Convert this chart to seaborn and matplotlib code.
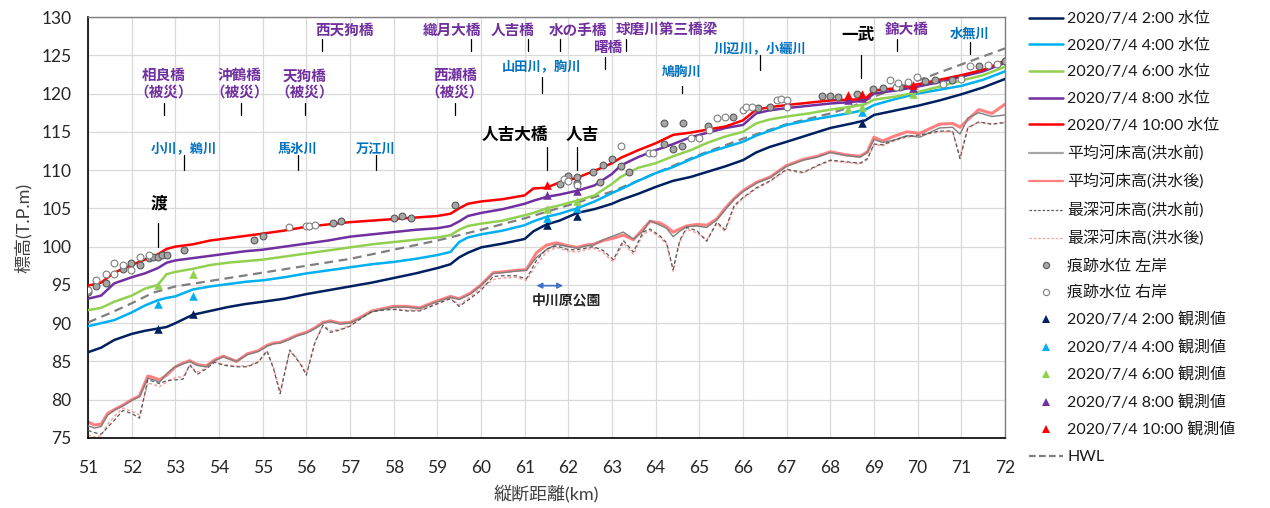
import numpy as np
import matplotlib
matplotlib.use("Agg")
import matplotlib.pyplot as plt
from matplotlib.lines import Line2D
import seaborn as sns

sns.set_style("white")
plt.rcParams['font.family'] = ['Lato', 'Noto Sans CJK JP', 'DejaVu Sans']

# ---------------- water surface profiles (km, T.P.m) ----------------
wl_km = [51.0, 51.3, 51.6, 52.0, 52.3, 52.6, 52.8, 53.0, 53.4, 53.8,
         54.2, 54.6, 55.0, 55.5, 56.0, 56.5, 57.0, 57.5, 58.0, 58.5,
         59.0, 59.3, 59.5, 59.7, 60.0, 60.5, 61.0, 61.2, 61.5, 61.8,
         62.2, 62.6, 63.0, 63.2, 63.6, 64.0, 64.4, 64.8, 65.2, 65.6,
         66.0, 66.3, 66.6, 67.0, 67.5, 68.0, 68.5, 68.8, 69.0, 69.5,
         70.0, 70.5, 71.0, 71.5, 72.0]
wl_0200 = [86.2, 86.8, 87.8, 88.6, 89.0, 89.3, 89.5, 90.0, 91.1, 91.6,
           92.1, 92.5, 92.8, 93.2, 93.8, 94.3, 94.8, 95.3, 95.9, 96.5,
           97.2, 97.7, 98.6, 99.2, 99.9, 100.4, 101.0, 102.0, 102.9, 103.4,
           104.4, 104.9, 105.6, 106.1, 106.9, 107.8, 108.6, 109.1, 109.8, 110.5,
           111.3, 112.3, 113.0, 113.7, 114.6, 115.5, 116.1, 116.5, 117.2, 117.8,
           118.4, 119.1, 119.9, 120.8, 121.9]
wl_0400 = [89.6, 90.0, 90.4, 91.4, 92.3, 93.0, 93.3, 93.5, 94.4, 94.8,
           95.1, 95.4, 95.6, 96.0, 96.5, 96.9, 97.3, 97.7, 98.0, 98.4,
           98.9, 99.3, 100.6, 101.2, 101.6, 102.1, 102.8, 103.3, 103.9, 104.3,
           105.0, 105.9, 107.0, 107.5, 108.6, 109.6, 110.4, 111.4, 112.3, 113.0,
           113.7, 114.5, 115.1, 115.9, 116.5, 117.0, 117.5, 117.9, 118.5, 119.3,
           120.0, 120.5, 121.0, 121.8, 122.9]
wl_0600 = [91.7, 92.0, 92.8, 93.6, 94.5, 95.0, 96.4, 96.7, 97.1, 97.6,
           97.9, 98.1, 98.3, 98.7, 99.1, 99.5, 99.9, 100.3, 100.6, 100.9,
           101.2, 101.5, 102.2, 102.7, 103.0, 103.4, 104.1, 104.4, 105.0, 105.4,
           106.0, 106.7, 108.2, 109.1, 110.3, 110.9, 111.8, 112.6, 113.6, 114.4,
           115.0, 116.1, 116.6, 117.0, 117.4, 117.9, 118.3, 118.6, 119.2, 119.6,
           120.2, 120.9, 121.7, 122.4, 123.5]
wl_0800 = [93.2, 93.6, 95.2, 96.0, 96.5, 97.2, 97.9, 98.2, 98.5, 98.8,
           99.1, 99.4, 99.6, 100.0, 100.4, 100.8, 101.3, 101.6, 101.9, 102.2,
           102.4, 102.7, 103.3, 104.0, 104.4, 104.9, 105.6, 106.0, 106.5, 106.8,
           107.3, 108.0, 109.5, 110.6, 111.7, 112.6, 113.4, 114.3, 114.9, 115.5,
           115.9, 117.4, 117.8, 118.1, 118.4, 118.7, 118.9, 119.1, 120.0, 120.4,
           120.9, 121.5, 122.2, 122.9, 124.0]
wl_1000 = [94.9, 95.3, 96.6, 97.6, 98.3, 99.0, 99.7, 100.0, 100.3, 100.8,
           101.1, 101.4, 101.7, 102.1, 102.6, 102.9, 103.2, 103.4, 103.6, 103.8,
           104.0, 104.3, 105.0, 105.6, 105.9, 106.2, 106.7, 107.6, 107.7, 108.4,
           109.0, 109.9, 110.9, 111.6, 112.6, 113.5, 114.6, 114.9, 115.3, 115.7,
           116.5, 117.9, 118.2, 118.5, 118.8, 119.1, 119.2, 119.3, 120.4, 120.7,
           121.2, 121.8, 122.4, 123.1, 124.3]

# ---------------- planned high water level ----------------
hwl_km = [51.0, 51.5, 52.0, 52.5, 53.0, 54.0, 55.0, 56.0, 57.0, 58.0,
          59.0, 60.0, 61.0, 62.0, 63.0, 64.0, 65.0, 66.0, 67.0, 68.0,
          68.5, 69.0, 70.0, 71.0, 72.0]
hwl = [90.1, 91.3, 92.6, 94.0, 94.8, 95.7, 96.6, 97.5, 98.4, 99.6,
       100.8, 102.2, 103.7, 105.4, 107.2, 109.6, 112.0, 114.1, 116.0, 117.4,
       118.3, 119.6, 121.7, 123.8, 125.9]

# ---------------- riverbed profiles ----------------
bed_km = [51.0, 51.15, 51.3, 51.45, 51.6, 51.8, 52.0, 52.18, 52.37, 52.5,
          52.64, 52.8, 53.0, 53.18, 53.33, 53.5, 53.7, 53.9, 54.1, 54.4,
          54.65, 54.9, 55.1, 55.25, 55.4, 55.62, 55.77, 55.88, 56.0, 56.2,
          56.38, 56.55, 56.77, 57.0, 57.25, 57.5, 57.75, 58.0, 58.3, 58.6,
          58.9, 59.3, 59.5, 59.75, 60.0, 60.28, 60.5, 60.8, 61.04, 61.27,
          61.5, 61.73, 62.0, 62.2, 62.4, 62.57, 62.8, 63.03, 63.26, 63.49,
          63.71, 63.87, 64.1, 64.25, 64.4, 64.55, 64.71, 64.94, 65.17, 65.4,
          65.59, 65.8, 66.0, 66.31, 66.62, 67.0, 67.38, 67.7, 68.0, 68.35,
          68.68, 68.85, 69.0, 69.2, 69.45, 69.75, 70.05, 70.5, 70.8, 70.97,
          71.15, 71.4, 71.7, 72.0]
bed_mean_before = [76.6, 76.3, 76.5, 78.0, 78.6, 79.2, 79.9, 80.4, 82.8, 82.6,
                   82.3, 83.4, 84.3, 84.7, 85.0, 84.5, 84.3, 85.1, 85.6, 85.0,
                   85.9, 86.3, 87.0, 87.3, 87.4, 87.9, 88.3, 88.5, 88.7, 89.3,
                   90.0, 90.2, 89.9, 90.0, 90.7, 91.5, 91.8, 92.1, 92.1, 91.9,
                   92.6, 93.4, 93.1, 93.8, 94.9, 96.5, 96.6, 96.8, 96.9, 98.6,
                   99.6, 100.3, 100.0, 99.8, 100.1, 100.2, 100.9, 101.4, 101.9, 101.0,
                   102.0, 103.4, 102.8, 102.4, 101.3, 102.0, 102.6, 102.7, 102.5, 103.5,
                   104.8, 106.2, 107.2, 108.3, 109.0, 110.5, 111.3, 111.7, 112.3, 111.9,
                   111.7, 112.3, 114.0, 113.6, 113.9, 114.5, 114.3, 115.5, 115.6, 114.7,
                   116.8, 117.5, 117.0, 117.2]
bed_mean_after = [77.1, 76.7, 76.8, 78.2, 78.7, 79.3, 80.0, 80.5, 83.1, 82.9,
                  82.6, 83.2, 84.3, 84.8, 85.1, 84.6, 84.4, 85.2, 85.7, 85.0,
                  86.0, 86.4, 87.1, 87.4, 87.5, 88.0, 88.4, 88.6, 88.8, 89.4,
                  90.1, 90.3, 90.0, 90.1, 90.8, 91.6, 91.9, 92.2, 92.2, 92.0,
                  92.7, 93.5, 93.2, 93.9, 95.0, 96.6, 96.7, 96.9, 97.0, 99.2,
                  100.2, 100.5, 100.1, 99.9, 100.2, 100.3, 100.8, 101.1, 101.5, 100.9,
                  102.3, 103.3, 103.1, 102.6, 101.9, 102.3, 102.7, 102.9, 102.8, 103.6,
                  105.0, 106.3, 107.3, 108.4, 109.1, 110.6, 111.4, 111.8, 112.4, 112.0,
                  111.8, 112.4, 114.3, 113.8, 114.4, 115.0, 114.8, 116.0, 116.1, 115.6,
                  116.6, 117.9, 117.4, 118.6]
bed_deep_before = [76.0, 75.7, 75.5, 76.4, 77.3, 78.6, 78.2, 77.6, 82.6, 82.4,
                   82.1, 82.5, 82.6, 82.7, 84.6, 83.3, 84.0, 84.9, 84.5, 84.3,
                   84.3, 84.9, 86.4, 84.0, 80.8, 86.5, 85.4, 84.5, 83.2, 87.5,
                   89.7, 88.8, 89.1, 89.6, 90.6, 91.5, 91.7, 91.8, 91.6, 91.6,
                   92.3, 93.2, 92.2, 93.2, 94.3, 96.1, 96.2, 96.2, 95.8, 98.2,
                   99.7, 100.1, 99.6, 99.6, 99.8, 100.0, 99.5, 98.3, 100.8, 99.3,
                   101.9, 102.3, 101.4, 100.5, 97.0, 100.8, 102.5, 102.1, 100.7, 103.2,
                   102.2, 105.4, 106.4, 107.7, 108.6, 110.1, 109.7, 110.6, 111.3, 111.1,
                   110.9, 111.5, 113.4, 113.3, 113.9, 114.4, 114.6, 115.1, 115.1, 111.5,
                   115.5, 116.3, 116.0, 116.2]
bed_deep_after = [75.4, 75.1, 75.3, 76.8, 77.8, 78.9, 78.5, 78.0, 82.2, 82.0,
                  81.7, 82.3, 82.9, 83.0, 84.4, 83.6, 84.1, 85.0, 84.6, 84.4,
                  84.4, 85.0, 86.3, 84.2, 81.0, 86.3, 85.5, 84.6, 83.5, 87.6,
                  89.8, 89.0, 89.2, 89.7, 90.7, 91.6, 91.8, 91.9, 91.7, 91.7,
                  92.4, 93.3, 92.4, 93.4, 94.6, 95.7, 95.9, 96.0, 95.6, 97.6,
                  99.3, 99.9, 99.4, 99.3, 99.6, 99.8, 99.2, 98.0, 100.5, 99.0,
                  101.6, 102.1, 101.2, 100.3, 96.8, 100.6, 102.3, 101.8, 100.9, 103.0,
                  102.0, 105.2, 106.3, 107.6, 108.5, 110.0, 109.6, 110.5, 111.2, 111.0,
                  110.8, 111.4, 113.3, 113.2, 113.8, 114.3, 114.5, 115.0, 115.0, 111.8,
                  115.6, 116.2, 116.0, 116.3]

# ---------------- flood trace marks ----------------
trace_left_km = [51.0, 51.19, 51.41, 51.8, 51.99, 52.2, 52.39, 52.49, 52.6, 52.7,
                 52.8, 53.19, 54.8, 55.0, 56.6, 56.8, 58.0, 58.2, 58.4, 59.4,
                 61.8, 62.0, 62.19, 62.19, 62.57, 62.72, 62.8, 62.99, 63.2, 63.39,
                 64.19, 64.62, 64.2, 64.4, 64.6, 65.2, 65.78, 66.35, 66.62, 67.8,
                 67.99, 68.18, 68.6, 68.98, 69.21, 69.6, 70.17, 70.4, 70.78, 71.41,
                 72.0]
trace_left = [94.1, 94.9, 95.2, 97.1, 97.8, 97.6, 98.5, 98.7, 98.7, 98.9,
              98.9, 99.5, 100.9, 101.4, 103.1, 103.4, 103.8, 104.0, 103.8, 105.4,
              108.2, 109.2, 108.3, 109.1, 109.7, 108.5, 110.6, 111.4, 110.5, 109.8,
              116.1, 116.1, 113.4, 112.8, 113.2, 115.7, 117.0, 118.1, 118.3, 119.7,
              119.7, 119.5, 120.0, 120.6, 120.7, 120.8, 121.7, 121.8, 121.8, 123.6,
              124.2]
trace_right_km = [51.0, 51.19, 51.41, 51.6, 51.6, 51.8, 51.99, 52.2, 52.39, 55.6,
                  55.99, 56.05, 56.2, 61.9, 62.0, 62.19, 63.2, 63.85, 63.95, 64.82,
                  65.0, 65.22, 65.4, 65.59, 66.0, 66.08, 66.2, 66.77, 66.88, 67.0,
                  67.0, 69.37, 69.5, 69.56, 69.79, 69.98, 70.59, 70.99, 71.2, 71.62,
                  71.81]
trace_right = [94.4, 95.7, 96.4, 97.9, 96.4, 97.6, 97.0, 98.6, 98.9, 102.6,
               102.7, 102.7, 102.8, 108.8, 108.6, 108.0, 113.2, 112.2, 112.2, 114.2,
               114.2, 115.3, 116.8, 116.9, 117.9, 118.2, 118.2, 119.2, 119.3, 119.2,
               118.2, 121.8, 120.9, 121.4, 121.5, 122.2, 121.2, 121.9, 123.6, 123.7,
               123.9]

# ---------------- gauged water levels ----------------
gauge_km = [52.6, 53.4, 61.5, 62.19, 68.41, 68.72, 69.9]
obs_0200 = [89.2, 91.2, 102.8, 104.0, np.nan, 116.1, np.nan]
obs_0400 = [92.5, 93.5, 103.8, 105.0, np.nan, 117.6, np.nan]
obs_0600 = [95.0, 96.4, 104.9, 106.0, 118.0, 118.3, 119.9]
obs_0800 = [np.nan, np.nan, 106.7, 107.3, 119.1, 119.4, 120.7]
obs_1000 = [np.nan, np.nan, 108.1, np.nan, 119.8, 119.9, 121.1]

times = ["2:00", "4:00", "6:00", "8:00", "10:00"]
time_colors = ["#002060", "#00b0f0", "#92d050", "#7030a0", "#ff0000"]
wl_series = [wl_0200, wl_0400, wl_0600, wl_0800, wl_1000]
obs_series = [obs_0200, obs_0400, obs_0600, obs_0800, obs_1000]

C_BED_BEFORE = "#7f7f7f"
C_BED_AFTER = "#ff8080"
C_DEEP_BEFORE = "#595959"
C_DEEP_AFTER = "#ff9f9f"
C_HWL = "#7f7f7f"

fig = plt.figure(figsize=(12.7, 5.08), dpi=100)
ax = fig.add_axes([88 / 1270, 1 - 438 / 508, (1005 - 88) / 1270, (438 - 17) / 508])

# riverbed
sns.lineplot(x=bed_km, y=bed_mean_after, color=C_BED_AFTER, lw=2.2, ax=ax, zorder=2)
sns.lineplot(x=bed_km, y=bed_deep_after, color=C_DEEP_AFTER, lw=1.1,
             linestyle=(0, (2, 1.5)), ax=ax, zorder=2)
sns.lineplot(x=bed_km, y=bed_mean_before, color=C_BED_BEFORE, lw=1.0, ax=ax, zorder=3)
sns.lineplot(x=bed_km, y=bed_deep_before, color=C_DEEP_BEFORE, lw=0.9,
             linestyle=(0, (3, 2)), ax=ax, zorder=3)

# HWL
sns.lineplot(x=hwl_km, y=hwl, color=C_HWL, lw=1.6, linestyle=(0, (4, 2.5)), ax=ax, zorder=3)

# water levels
for vals, col in zip(wl_series, time_colors):
    sns.lineplot(x=wl_km, y=vals, color=col, lw=1.8, ax=ax, zorder=4)

# trace marks
sns.scatterplot(x=trace_left_km, y=trace_left, s=24, color="#a6a6a6",
                edgecolor="#595959", linewidth=0.8, ax=ax, zorder=5)
sns.scatterplot(x=trace_right_km, y=trace_right, s=24, color="white",
                edgecolor="#7f7f7f", linewidth=0.8, ax=ax, zorder=5)

# gauged values
for vals, col in zip(obs_series, time_colors):
    sns.scatterplot(x=gauge_km, y=vals, marker="^", s=38, color=col,
                    edgecolor=col, linewidth=0, ax=ax, zorder=6)

# axes styling
ax.set_xlim(51, 72)
ax.set_ylim(75, 130)
ax.set_xticks(range(51, 73))
ax.set_yticks(range(75, 131, 5))
ax.grid(True, color="#d9d9d9", lw=0.9)
ax.set_axisbelow(True)
ax.tick_params(axis="both", length=0, labelsize=12.5, labelcolor="#262626")
ax.tick_params(axis="x", pad=16)
ax.tick_params(axis="y", pad=12)
for side in ("top", "right"):
    ax.spines[side].set_color("#7f7f7f")
    ax.spines[side].set_linewidth(1.0)
for side in ("left", "bottom"):
    ax.spines[side].set_color("black")
    ax.spines[side].set_linewidth(1.2)
ax.set_xlabel("縦断距離(km)", fontsize=13, labelpad=6, color="#404040")
ax.set_ylabel("標高(T.P.m)", fontsize=13, labelpad=7, color="#404040")

# ---------------- place-name annotations ----------------
PURPLE = "#7030a0"
BLUE = "#0070c0"
BLACK = "black"
cjk = ["Noto Sans CJK JP", "DejaVu Sans"]

# (text, text_x, text_y, line_x, line_y0, line_y1, color, size)
labels = [
    ("西天狗橋", 56.87, 128.3, 56.35, 127.1, 125.6, PURPLE, 10.5),
    ("織月大橋", 59.34, 128.3, 59.77, 127.1, 125.6, PURPLE, 10.5),
    ("人吉橋", 60.73, 128.3, 61.07, 127.1, 125.6, PURPLE, 10.5),
    ("水の手橋", 62.22, 128.3, 61.81, 127.1, 125.6, PURPLE, 10.5),
    ("球磨川第三橋梁", 64.25, 128.4, 63.32, 127.1, 125.6, PURPLE, 10.5),
    ("曙橋", 62.91, 126.1, 62.85, 124.8, 123.2, PURPLE, 10.5),
    ("錦大橋", 69.76, 128.4, 69.53, 127.1, 125.6, PURPLE, 10.5),
    ("相良橋\n（被災）", 52.73, 121.3, 52.75, 118.8, 117.2, PURPLE, 10.5),
    ("沖鶴橋\n（被災）", 54.48, 121.3, 54.51, 118.8, 117.2, PURPLE, 10.5),
    ("天狗橋\n（被災）", 55.96, 121.3, 55.98, 118.8, 117.2, PURPLE, 10.5),
    ("西瀬橋\n（被災）", 59.40, 121.3, 59.40, 118.8, 117.2, PURPLE, 10.5),
    ("小川，鵜川", 53.19, 112.8, 53.20, 112.0, 110.0, BLUE, 9.5),
    ("馬氷川", 55.79, 112.8, 55.80, 112.0, 110.0, BLUE, 9.5),
    ("万江川", 57.59, 112.8, 57.59, 112.0, 110.0, BLUE, 9.5),
    ("山田川，胸川", 61.39, 123.4, 61.40, 122.2, 120.1, BLUE, 9.5),
    ("鳩胸川", 64.59, 122.8, 64.61, 121.0, 120.1, BLUE, 9.5),
    ("川辺川，小纚川", 66.39, 125.8, 66.40, 125.0, 123.1, BLUE, 9.5),
    ("水無川", 71.20, 127.9, 71.20, 126.7, 125.2, BLUE, 9.5),
    ("渡", 52.62, 105.7, 52.60, 103.1, 100.0, BLACK, 12),
    ("人吉大橋", 60.78, 114.6, 61.50, 113.0, 110.0, BLACK, 12),
    ("人吉", 62.33, 114.6, 62.19, 113.0, 110.0, BLACK, 12),
    ("一武", 68.63, 127.6, 68.70, 125.0, 122.0, BLACK, 12),
]
for text, tx, ty, lx, ly0, ly1, col, size in labels:
    ax.text(tx, ty, text, ha="center", va="center", color=col, fontsize=size,
            fontweight="bold", family=cjk, linespacing=1.05, zorder=7)
    ax.plot([lx, lx], [ly0, ly1], color="black", lw=0.9, zorder=7)

ax.annotate("", xy=(61.88, 94.9), xytext=(61.27, 94.9),
            arrowprops=dict(arrowstyle="<|-|>", color="#4472c4", lw=1.2,
                            mutation_scale=8, shrinkA=0, shrinkB=0), zorder=7)
ax.text(61.96, 93.0, "中川原公園", ha="center", va="center", color="#262626",
        fontsize=10, fontweight="bold", family=cjk, zorder=7)

# ---------------- legend ----------------
handles = []
leg_labels = []
for t, col in zip(times, time_colors):
    handles.append(Line2D([], [], color=col, lw=1.8))
    leg_labels.append(f"2020/7/4 {t} 水位")
handles += [
    Line2D([], [], color="#a6a6a6", lw=1.6),
    Line2D([], [], color=C_BED_AFTER, lw=1.6),
    Line2D([], [], color=C_DEEP_BEFORE, lw=0.9, linestyle=(0, (2, 1.5))),
    Line2D([], [], color=C_DEEP_AFTER, lw=0.9, linestyle=(0, (2, 1.5))),
    Line2D([], [], color="none", marker="o", markersize=4.5,
           markerfacecolor="#a6a6a6", markeredgecolor="#595959", markeredgewidth=0.8),
    Line2D([], [], color="none", marker="o", markersize=4.5,
           markerfacecolor="white", markeredgecolor="#7f7f7f", markeredgewidth=0.8),
]
leg_labels += ["平均河床高(洪水前)", "平均河床高(洪水後)", "最深河床高(洪水前)",
               "最深河床高(洪水後)", "痕跡水位 左岸", "痕跡水位 右岸"]
for t, col in zip(times, time_colors):
    handles.append(Line2D([], [], color="none", marker="^", markersize=5.5,
                          markerfacecolor=col, markeredgecolor=col, markeredgewidth=0))
    leg_labels.append(f"2020/7/4 {t} 観測値")
handles.append(Line2D([], [], color=C_HWL, lw=1.6, linestyle=(0, (3, 1.5))))
leg_labels.append("HWL")

leg = fig.legend(handles, leg_labels, loc="upper left",
                 bbox_to_anchor=(1029 / 1270, 1 - 12 / 508), frameon=False,
                 fontsize=11.5, handlelength=2.1, handletextpad=0.3,
                 labelspacing=0.78, borderaxespad=0, borderpad=0)
for txt in leg.get_texts():
    txt.set_color("#1a1a1a")

fig.savefig("out.png", dpi=100)
